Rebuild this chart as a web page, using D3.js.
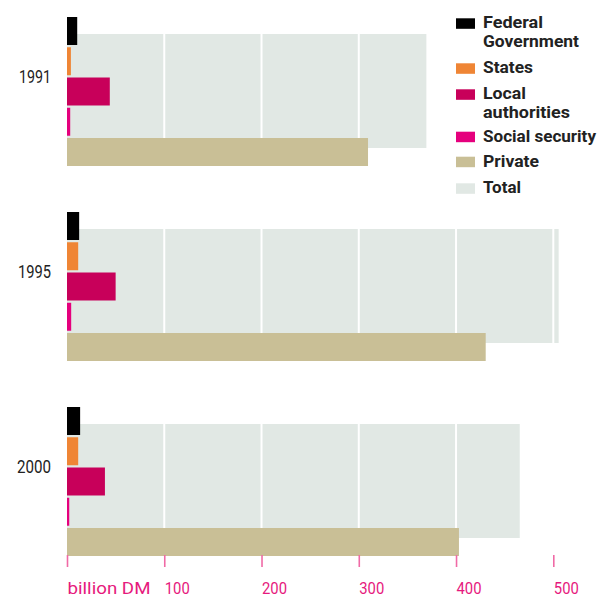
<!DOCTYPE html>
<html><head><meta charset="utf-8">
<script src="https://cdn.jsdelivr.net/npm/d3@7"></script>
<style>
body{margin:0;background:#fff;}
svg{display:block;font-family:"Roboto","Liberation Sans",sans-serif;}
</style></head>
<body><svg id="c" width="605" height="599"></svg>
<script>
const years = ["1991","1995","2000"];
const seriesNames = ["Federal Government","States","Local authorities","Social security","Private"];
const federal = [10.5, 12.5, 13.5];
const states = [4, 11.5, 11.5];
const local = [44, 50, 39];
const social = [3.3, 4.3, 2.3];
const privateV = [309.5, 430.5, 403];
const total = [369.5, 505.5, 465.5];
const tickValues = [0,100,200,300,400,500];
const tickLabels = ["billion DM","100","200","300","400","500"];
const legendLabels = [["Federal","Government"],["States"],["Local","authorities"],["Social security"],["Private"],["Total"]];
const colors = ["#000000","#ef8535","#c8005a","#e5007d","#c9bf96","#e1e8e4"];

const seriesValues = [federal, states, local, social, privateV];
const svg = d3.select("#c");
const x = d3.scaleLinear().domain([0,500]).range([67,553.3]);
const yYear = d3.scaleBand().domain(years).range([17,602]);
const ySer = d3.scaleBand().domain(seriesNames).range([0,149]).paddingInner(0.0744);

function fit(sel, w){
  sel.each(function(){
    const n = this.getComputedTextLength();
    if (n > 0) d3.select(this).attr("textLength", w).attr("lengthAdjust","spacingAndGlyphs");
  });
}

const groups = svg.selectAll("g.yr").data(years).join("g").attr("class","yr")
  .attr("transform", d => `translate(0,${yYear(d)})`);

groups.append("rect")
  .attr("x", x(0)).attr("y", 17)
  .attr("width", (d,i) => x(total[i]) - x(0))
  .attr("height", 114)
  .attr("fill", colors[5]);

groups.each(function(d,i){
  d3.select(this).selectAll("line.g").data(tickValues.filter(t => t>0 && t<=total[i])).join("line")
    .attr("x1", t => x(t)).attr("x2", t => x(t))
    .attr("y1", 17).attr("y2", 131)
    .attr("stroke","#fff").attr("stroke-width",2);
});

groups.each(function(d,i){
  d3.select(this).selectAll("rect.s").data(seriesNames).join("rect").attr("class","s")
    .attr("x", x(0)).attr("y", s => ySer(s))
    .attr("width", (s,j) => x(seriesValues[j][i]) - x(0))
    .attr("height", ySer.bandwidth())
    .attr("fill", (s,j) => colors[j]);
});

const yearW = [32, 33, 34];
groups.append("text")
  .attr("x", 51).attr("y", ySer("Local authorities") - 1)
  .attr("dy","0.36em").attr("text-anchor","end")
  .attr("font-size", 18).attr("fill","#222")
  .text(d => d)
  .each(function(d,i){ fit(d3.select(this), yearW[i]); });

const axis = d3.axisBottom(x).tickValues(tickValues).tickSize(12).tickFormat((d,i) => tickLabels[i]);
const ax = svg.append("g").attr("transform","translate(0,555)").call(axis);
ax.attr("font-family",null).attr("font-size",null);
ax.select(".domain").remove();
ax.selectAll(".tick line").attr("stroke","#f06aa6").attr("stroke-width",1.6);
ax.selectAll(".tick text").attr("y",39).attr("dy",null).attr("text-anchor","start")
  .attr("font-size",17).attr("fill","#e6197d")
  .each(function(d,i){ fit(d3.select(this), i===0 ? 83 : 25); });

const lg = svg.append("g");
const legBase = [28.3, 73.3, 99.3, 141.7, 166.7, 193.3];
const legW = [[60,96],[50],[43,87],[113],[56],[38]];
legendLabels.forEach((lines,i) => {
  lg.append("rect").attr("x",456).attr("y",legBase[i]-10).attr("width",19).attr("height",10.5).attr("fill",colors[i]);
  lines.forEach((ln,k) => {
    lg.append("text").attr("x",483).attr("y",legBase[i] + k*18.3).attr("font-size",17)
      .attr("font-weight","bold").attr("fill","#222").text(ln)
      .call(s => fit(s, legW[i][k]));
  });
});
</script></body></html>
